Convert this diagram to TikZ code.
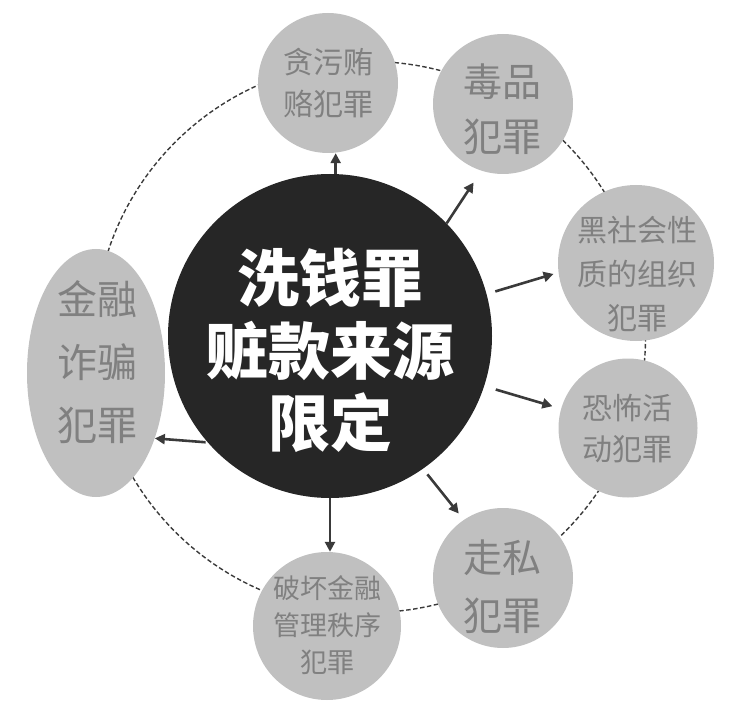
\documentclass[tikz,border=0pt]{standalone}
\usepackage{fontspec}
\newfontfamily\cjk{Noto Sans CJK SC}
\usetikzlibrary{arrows.meta,shapes.geometric}
\definecolor{satfill}{HTML}{C0C0C0}
\definecolor{sattext}{HTML}{808080}
\definecolor{hub}{HTML}{262626}
\definecolor{link}{HTML}{3A3A3A}
\begin{document}
\begin{tikzpicture}[x=1pt,y=-1pt,
  sat/.style={circle,fill=satfill,inner sep=0pt,minimum size=#1},
  sattxt/.style={text=sattext,align=center,inner sep=0pt,font=#1},
  arr/.style={draw=link,line width=2.6pt,-{Triangle[length=10pt,width=10pt]}},
  ring/.style={draw=link,line width=1.4pt,dash pattern=on 4.5pt off 2.5pt}]
\useasboundingbox (0,0) rectangle (750,722);
\coordinate (rc) at (370,337);
\draw[ring] (rc) circle[radius=275.5];

% satellites
\node[sat=140pt] (t) at (328,83) {};
\node[sattxt={\cjk\fontsize{30}{42}\selectfont}] (tt) at (328,83) {贪污贿\\赂犯罪};

\node[sat=140pt] (dp) at (503,104) {};
\node[sattxt={\cjk\fontsize{39}{55}\selectfont}] (dpt) at (502,109.5) {毒品\\犯罪};

\node[sat=156pt] (hs) at (636,263) {};
\node[sattxt={\cjk\fontsize{30}{44}\selectfont}] (hst) at (637,274.5) {黑社会性\\质的组织\\犯罪};

\node[sat=139pt] (kb) at (628,428) {};
\node[sattxt={\cjk\fontsize{30}{41}\selectfont}] (kbt) at (627,428.5) {恐怖活\\动犯罪};

\node[sat=140pt] (zs) at (503,578) {};
\node[sattxt={\cjk\fontsize{39}{58}\selectfont}] (zst) at (502,587) {走私\\犯罪};

\node[sat=148pt] (pj) at (327,626) {};
\node[sattxt={\cjk\fontsize{27}{37}\selectfont}] (pjt) at (327,625) {破坏金融\\管理秩序\\犯罪};

\node[ellipse,fill=satfill,inner sep=0pt,minimum width=138pt,minimum height=248pt] (jr) at (96,373) {};
\node[sattxt={\cjk\fontsize{40}{63}\selectfont}] (jrt) at (97,362) {金融\\诈骗\\犯罪};

% hub
\node[circle,fill=hub,inner sep=0pt,minimum size=324pt] (main) at (330,336) {};
\node[text=white,align=center,inner sep=0pt,font={\cjk\bfseries\fontsize{62}{72.5}\selectfont}] (mt) at (330,350.5) {洗钱罪\\赃款来源\\限定};

% arrows
\draw[arr] (main.88) -- (main.88 |- t.south);
\draw[arr,shorten >=14pt] (main.44) -- (dp.252);
\draw[arr,shorten <=9pt,shorten >=5pt] (main.15) -- (hs.187);
\draw[arr,shorten <=12pt,shorten >=9pt] (main.-18) -- (kb.164);
\draw[arr,shorten <=7pt,shorten >=8pt] (main.-55) -- (zs.124);
\draw[arr] (main.south) -- (main.south |- pj.north);
\draw[arr,shorten <=2pt] (main.221) -- (jr.-48);
\end{tikzpicture}
\end{document}
